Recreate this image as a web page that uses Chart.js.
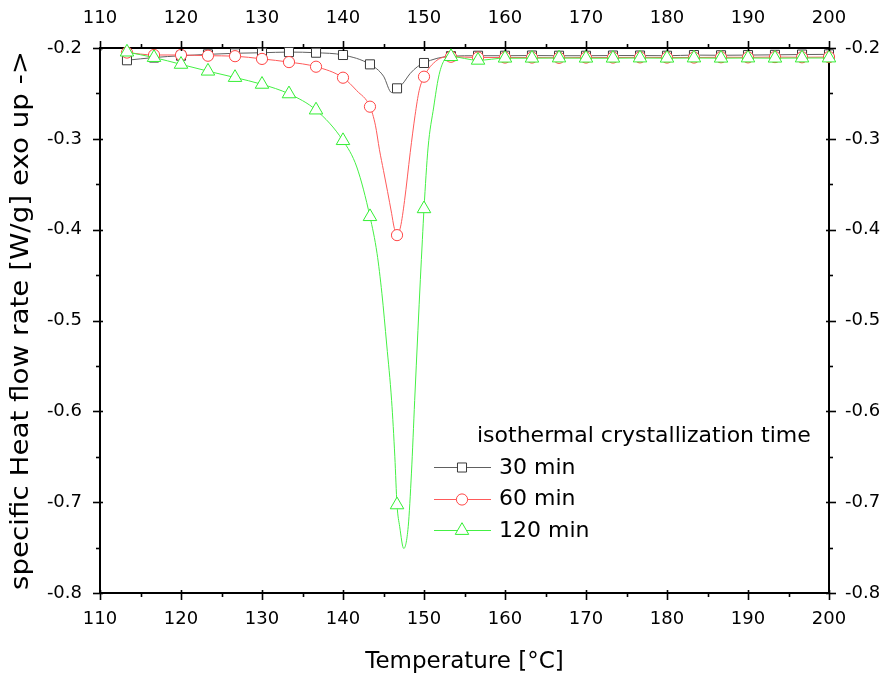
<!DOCTYPE html>
<html><head><meta charset="utf-8">
<script src="https://cdn.jsdelivr.net/npm/chart.js@4.4.0/dist/chart.umd.min.js"></script>
<style>html,body{margin:0;padding:0;background:#fff;}#wrap{width:888px;height:677px;}</style>
</head><body><div id="wrap"><canvas id="c" width="888" height="677"></canvas></div>
<script>
// ---- data ----
const markerT = [113.33,116.67,120,123.33,126.67,130,133.33,136.67,140,143.33,146.67,150,153.33,156.67,160,163.33,166.67,170,173.33,176.67,180,183.33,186.67,190,193.33,196.67,200];
const heat30  = [-0.2135,-0.2105,-0.2085,-0.207,-0.2058,-0.2052,-0.2045,-0.2052,-0.2077,-0.218,-0.2444,-0.2165,-0.209,-0.2085,-0.2085,-0.2083,-0.2085,-0.2085,-0.2083,-0.2083,-0.2085,-0.2078,-0.208,-0.2078,-0.2075,-0.2072,-0.207];
const heat60  = [-0.205,-0.2077,-0.2077,-0.2085,-0.209,-0.212,-0.2155,-0.2206,-0.2327,-0.2646,-0.406,-0.2316,-0.2096,-0.2105,-0.2105,-0.2105,-0.2108,-0.2105,-0.2105,-0.2103,-0.2105,-0.2105,-0.2102,-0.2103,-0.21,-0.2102,-0.21];
const heat120 = [-0.2045,-0.2105,-0.218,-0.2255,-0.2325,-0.24,-0.2505,-0.2683,-0.302,-0.3857,-0.703,-0.377,-0.2095,-0.2135,-0.2112,-0.2112,-0.211,-0.2112,-0.2112,-0.211,-0.2112,-0.211,-0.2112,-0.211,-0.2112,-0.211,-0.211];
// additional curve points between the markers (shape of the dips)
const extraT30  = [145,146,147.3,148.3,149.2,151.6];
const extra30   = [-0.231,-0.249,-0.240,-0.228,-0.2205,-0.2114];
const extraT60  = [141.7,144.0,144.5,145.0,145.5,146.0,146.3,147.1,147.6,148.3,148.9,149.4,151.6];
const extra60   = [-0.247,-0.285,-0.312,-0.335,-0.358,-0.382,-0.397,-0.397,-0.368,-0.315,-0.274,-0.247,-0.2135];
const extraT120 = [141.7,144.2,144.8,145.4,146.0,146.4,147.0,147.5,148.05,148.45,148.85,149.25,149.55,149.8,150.5,151.2,151.8,152.4];
const extra120  = [-0.331,-0.426,-0.470,-0.527,-0.588,-0.650,-0.727,-0.751,-0.727,-0.668,-0.588,-0.511,-0.455,-0.411,-0.31,-0.265,-0.232,-0.215];
const seriesNames = ['30 min','60 min','120 min'];
const legendTitle = 'isothermal crystallization time';
const xTitle = 'Temperature [°C]';
const yTitle = 'specific Heat flow rate [W/g] exo up ->';
const xRange = [110, 200];
const yRange = [-0.8, -0.2];

// ---- styles ----
const FONT = '"DejaVu Sans", sans-serif';
const colors = ['#3a3a3a', '#ff4545', '#33ee33'];
const lineColors = ['#606060', '#ff5a5a', '#44f044'];
const styles = ['rect', 'circle', 'triangle'];
const radii = [6.4, 5.6, 7.8];

function buildCurve(mT, mV, eT, eV) {
  const pts = mT.map((t, i) => ({x: t, y: mV[i]})).concat(eT.map((t, i) => ({x: t, y: eV[i]})));
  pts.sort((a, b) => a.x - b.x);
  return pts;
}
const curves = [
  buildCurve(markerT, heat30, extraT30, extra30),
  buildCurve(markerT, heat60, extraT60, extra60),
  buildCurve(markerT, heat120, extraT120, extra120)
];
const markerSets = [heat30, heat60, heat120].map(v => markerT.map((t, i) => ({x: t, y: v[i]})));

const datasets = [];
for (let s = 0; s < 3; s++) {
  datasets.push({
    label: seriesNames[s] + ' curve', data: curves[s], borderColor: lineColors[s], borderWidth: 1,
    pointRadius: 0, cubicInterpolationMode: 'monotone', fill: false, order: 5 - 2 * s + 1
  });
  datasets.push({
    label: seriesNames[s], data: markerSets[s], showLine: false, pointStyle: styles[s],
    pointRadius: radii[s], pointBackgroundColor: '#fff', pointBorderColor: colors[s],
    pointBorderWidth: 1, clip: false, order: 5 - 2 * s
  });
}

const decorPlugin = {
  id: 'decor',
  afterDraw(chart) {
    const ctx = chart.ctx;
    const {left, right, top, bottom} = chart.chartArea;
    const xs = chart.scales.x, ys = chart.scales.y;
    ctx.save();
    ctx.strokeStyle = '#000';
    ctx.lineWidth = 1.6;
    for (let t = xRange[0]; t <= xRange[1] + 1e-9; t += 5) {
      const px = Math.round(xs.getPixelForValue(t)) + 0.5;
      const major = Math.round(t) % 10 === 0;
      const out = major ? 7 : 4, inn = major ? 3 : 0;
      ctx.beginPath(); ctx.moveTo(px, bottom - inn); ctx.lineTo(px, bottom + out); ctx.stroke();
      ctx.beginPath(); ctx.moveTo(px, top + inn); ctx.lineTo(px, top - out); ctx.stroke();
    }
    for (let k = 0; k <= 12; k++) {
      const v = yRange[0] + k * 0.05;
      const py = Math.round(ys.getPixelForValue(v)) + 0.5;
      const major = k % 2 === 0;
      const out = major ? 7 : 4, inn = major ? 3 : 0;
      ctx.beginPath(); ctx.moveTo(left + inn, py); ctx.lineTo(left - out, py); ctx.stroke();
      ctx.beginPath(); ctx.moveTo(right - inn, py); ctx.lineTo(right + out, py); ctx.stroke();
    }
    ctx.restore();

    // y-axis title (stretched along its length like the reference)
    ctx.save();
    ctx.font = '24px ' + FONT;
    ctx.fillStyle = '#000';
    ctx.textAlign = 'center';
    ctx.textBaseline = 'middle';
    const w = ctx.measureText(yTitle).width;
    const target = (bottom - top) - 6;
    ctx.translate(22, (top + bottom) / 2);
    ctx.rotate(-Math.PI / 2);
    ctx.scale(target / w, 1);
    ctx.fillText(yTitle, 0, 0);
    ctx.restore();

    // legend
    ctx.save();
    ctx.font = '22px ' + FONT;
    ctx.fillStyle = '#000';
    ctx.textBaseline = 'middle';
    ctx.textAlign = 'left';
    ctx.fillText(legendTitle, 477, 436);
    for (let s = 0; s < 3; s++) {
      const y = 467 + s * 31.5;
      ctx.strokeStyle = lineColors[s];
      ctx.lineWidth = 1.2;
      ctx.beginPath(); ctx.moveTo(434, Math.round(y) + 0.5); ctx.lineTo(491, Math.round(y) + 0.5); ctx.stroke();
      ctx.fillStyle = '#fff';
      ctx.strokeStyle = colors[s];
      ctx.lineWidth = 1;
      Chart.helpers.drawPoint(ctx, {pointStyle: styles[s], radius: radii[s], rotation: 0, borderWidth: 1}, 462, Math.round(y) + 0.5);
      ctx.fillStyle = '#000';
      ctx.fillText(seriesNames[s], 499, y + 1);
    }
    ctx.restore();
  }
};

const tickFont = {family: FONT, size: 18};
function xAxis(pos, showTitle, pad, h) {
  return {
    type: 'linear', position: pos, min: xRange[0], max: xRange[1],
    grid: {display: false, drawTicks: false},
    border: {display: true, color: '#000', width: 2},
    ticks: {stepSize: 10, color: '#000', font: tickFont, padding: pad, maxRotation: 0, autoSkip: false,
            callback: v => String(Math.round(v))},
    title: {display: showTitle, text: xTitle, color: '#000', font: {family: FONT, size: 23}, padding: {top: 0, bottom: 1}},
    afterFit: s => { s.height = h; }
  };
}
function yAxis(pos, pad, w) {
  return {
    type: 'linear', position: pos, min: yRange[0], max: yRange[1],
    grid: {display: false, drawTicks: false},
    border: {display: true, color: '#000', width: 2},
    ticks: {stepSize: 0.1, color: '#000', font: tickFont, padding: pad, autoSkip: false,
            callback: v => v.toFixed(1)},
    afterFit: s => { s.width = w; }
  };
}

new Chart(document.getElementById('c'), {
  type: 'line',
  data: {datasets},
  options: {
    responsive: false, animation: false, devicePixelRatio: 1,
    layout: {padding: 0},
    plugins: {legend: {display: false}, tooltip: {enabled: false}},
    scales: {
      x: xAxis('bottom', true, 16, 84),
      x2: xAxis('top', false, 19, 48),
      y: yAxis('left', 18, 100),
      y2: yAxis('right', 16, 59)
    }
  },
  plugins: [decorPlugin]
});
</script></body></html>
